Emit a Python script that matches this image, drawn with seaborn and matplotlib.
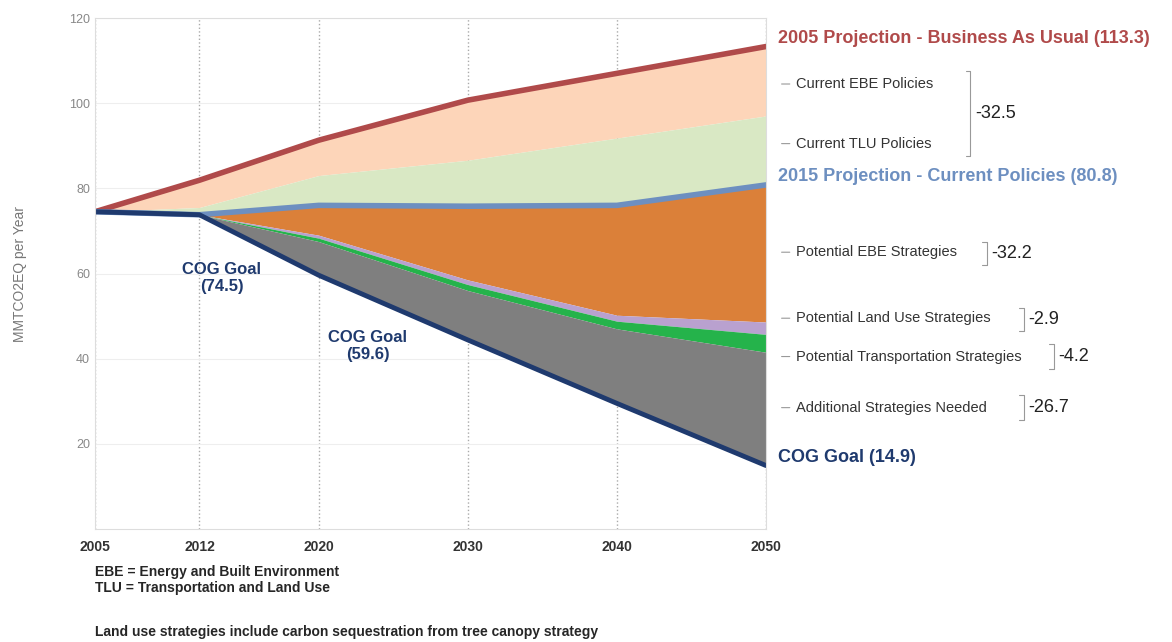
import numpy as np
import pandas as pd
import matplotlib.pyplot as plt
import seaborn as sns

sns.set_style('white')
plt.rcParams['font.family'] = ['Liberation Sans', 'DejaVu Sans']

years = [2005, 2012, 2020, 2030, 2040, 2050]
bau = [74.5, 81.9, 91.3, 100.7, 107.0, 113.3]
tlu_top = [74.5, 75.5, 83.0, 86.6, 91.8, 97.0]
current = [74.5, 73.8, 76.0, 75.8, 76.0, 80.8]
ebe_bottom = [74.5, 73.8, 69.0, 58.5, 50.2, 48.6]
land_bottom = [74.5, 73.8, 68.3, 57.4, 48.8, 45.7]
trans_bottom = [74.5, 73.8, 67.5, 56.0, 47.0, 41.5]
cog = [74.5, 73.8, 59.6, 44.4, 29.5, 14.9]

df = pd.DataFrame({'year': years, 'bau': bau, 'tlu': tlu_top, 'cur': current,
                   'ebe': ebe_bottom, 'land': land_bottom, 'trans': trans_bottom, 'cog': cog})

fig = plt.figure(figsize=(11.72, 6.42), dpi=100)
ax = fig.add_axes([95/1172, 1-529/642, (766-95)/1172, (529-18)/642])

ax.fill_between(df.year, df.tlu, df.bau, color='#fdd5b9', lw=0)
ax.fill_between(df.year, df.cur, df.tlu, color='#d9e8c4', lw=0)
ax.fill_between(df.year, df.ebe, df.cur, color='#db8039', lw=0)
ax.fill_between(df.year, df.land, df.ebe, color='#b9a1cf', lw=0)
ax.fill_between(df.year, df.trans, df.land, color='#25b34b', lw=0)
ax.fill_between(df.year, df.cog, df.trans, color='#7f7f7f', lw=0)

sns.lineplot(data=df, x='year', y='bau', ax=ax, color='#b04a4a', lw=4)
sns.lineplot(data=df, x='year', y='cur', ax=ax, color='#6d8fc0', lw=4)
sns.lineplot(data=df, x='year', y='cog', ax=ax, color='#1f3a6e', lw=3.5)

ax.set_xlim(2005, 2050)
ax.set_ylim(0, 120)
ax.set_xticks(years)
ax.set_xticklabels([str(y) for y in years], fontweight='bold', fontsize=10, color='#333333')
ax.set_yticks([20, 40, 60, 80, 100, 120])
ax.tick_params(axis='y', labelsize=9, colors='#888888', length=0)
ax.tick_params(axis='x', length=0, pad=8)
ax.set_xlabel('')
ax.set_ylabel('MMTCO2EQ per Year', fontsize=10, color='#777777', labelpad=30)
ax.grid(axis='x', linestyle=':', color='#aaaaaa', lw=1)
ax.grid(axis='y', color='#eeeeee', lw=0.8)
ax.set_axisbelow(True)
for s in ax.spines.values():
    s.set_color('#dddddd')

tx = 2050.8
ax.text(tx, 113.3, '2005 Projection - Business As Usual (113.3)', color='#b04a4a',
        fontsize=13, fontweight='bold', va='bottom', clip_on=False)
ax.text(tx, 80.8, '2015 Projection - Current Policies (80.8)', color='#6d8fc0',
        fontsize=13, fontweight='bold', va='bottom', clip_on=False)
ax.text(tx, 14.9, 'COG Goal (14.9)', color='#1f3a6e', fontsize=13, fontweight='bold',
        va='bottom', clip_on=False)
ax.text(2013.5, 59, 'COG Goal\n(74.5)', color='#1f3a6e', fontsize=12, fontweight='bold',
        ha='center', va='center')
ax.text(2023.3, 43, 'COG Goal\n(59.6)', color='#1f3a6e', fontsize=12, fontweight='bold',
        ha='center', va='center')

labels = [('Current EBE Policies', 104.5), ('Current TLU Policies', 90.5),
          ('Potential EBE Strategies', 65), ('Potential Land Use Strategies', 49.5),
          ('Potential Transportation Strategies', 40.5), ('Additional Strategies Needed', 28.5)]
for lab, yv in labels:
    ax.annotate(lab, xy=(2050.3, yv), xytext=(2052, yv), fontsize=10.5, color='#333333',
                va='center', annotation_clip=False,
                arrowprops=dict(arrowstyle='-', color='#999999', lw=0.8, shrinkB=8))

def bracket(x, y0, y1, val, fs=13):
    ax.plot([x, x + 0.3, x + 0.3, x], [y0, y0, y1, y1], color='#999999', lw=0.8, clip_on=False)
    ax.text(x + 0.6, (y0 + y1) / 2, val, fontsize=fs, va='center', color='#222222', clip_on=False)

bracket(2063.4, 107.5, 87.5, '-32.5')
bracket(2064.5, 67.5, 62, '-32.2')
bracket(2067.0, 52, 46.5, '-2.9')
bracket(2069.0, 43.5, 37.5, '-4.2')
bracket(2067.0, 31.5, 25.5, '-26.7')

fig.text(95/1172, 1-580/642, 'EBE = Energy and Built Environment\nTLU = Transportation and Land Use',
         fontsize=10, fontweight='bold', va='center')
fig.text(95/1172, 1-632/642, 'Land use strategies include carbon sequestration from tree canopy strategy',
         fontsize=10, fontweight='bold', va='center')

fig.savefig('out.png', dpi=100)
